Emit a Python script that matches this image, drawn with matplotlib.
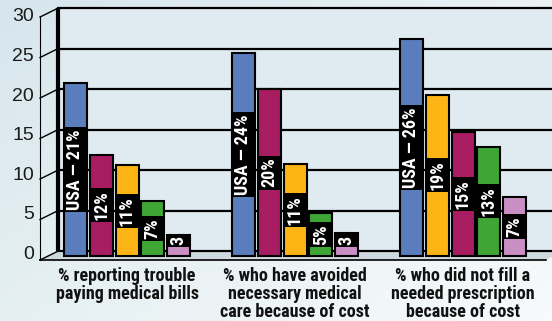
import numpy as np
import matplotlib.pyplot as plt

# survey results, % of adults
categories = ["% reporting trouble\npaying medical bills",
              "% who have avoided\nnecessary medical\ncare because of cost",
              "% who did not fill a\nneeded prescription\nbecause of cost"]
usa = [21.4, 25.1, 26.8]
magenta = [12.5, 20.6, 15.3]
orange = [11.2, 11.3, 19.9]
green = [6.8, 5.3, 13.5]
pink = [2.6, 2.9, 7.3]

usa_labels = ["USA — 21%", "USA — 24%", "USA — 26%"]
magenta_labels = ["12%", "20%", "15%"]
orange_labels = ["11%", "11%", "19%"]
green_labels = ["7%", "5%", "13%"]
pink_labels = ["3", "3", "7%"]

y_ticks = [0, 5, 10, 15, 20, 25, 30]

series = [
  (usa, usa_labels, '#5a7dbd'),
  (magenta, magenta_labels, '#a81c62'),
  (orange, orange_labels, '#fdb515'),
  (green, green_labels, '#3fa535'),
  (pink, pink_labels, '#c98fc5'),
]

NARROW = ['Roboto Condensed', 'DejaVu Sans']

PX = 8.1            # pixels per unit
FX, FDY = 40, -0.5  # front plane (x pixel, y shift)
BX, BDY = 58, 0.6   # back wall
RIGHT = 552

fig = plt.figure(figsize=(5.52, 3.21), dpi=100)

# background gradient
bg = fig.add_axes([0, 0, 1, 1], zorder=0)
t = np.linspace(0, 1, 60)
u, v = np.meshgrid(t, t)
c_tl = np.array([0.84, 0.90, 0.93])
c_tr = np.array([0.92, 0.95, 0.96])
c_bl = np.array([0.90, 0.94, 0.95])
c_br = np.array([0.97, 0.98, 0.985])
grad = ((1 - u) * (1 - v))[..., None] * c_tl + (u * (1 - v))[..., None] * c_tr \
  + ((1 - u) * v)[..., None] * c_bl + (u * v)[..., None] * c_br
bg.imshow(grad, aspect='auto', extent=[0, 1, 0, 1])
bg.axis('off')

ax = fig.add_axes([0, 0, 1, 1], zorder=1)
ax.patch.set_alpha(0)
ax.set_xlim(0, RIGHT)
ax.set_ylim(-65 / PX, 256 / PX)
ax.axis('off')

# back wall and floor
ax.fill_between([BX, RIGHT], BDY, 30 + BDY, color='#e0ebf1', zorder=1, lw=0)
ax.fill([FX, 546, 562, BX], [FDY, FDY, BDY, BDY], color='#cdd9de', zorder=1, lw=0)
ax.plot([FX, 546], [FDY, FDY], color='k', lw=1.2, zorder=2)

for g in y_ticks:
  ax.plot([BX, RIGHT], [g + BDY, g + BDY], color='k', lw=1.6, zorder=2)
  ax.plot([FX, BX], [g + FDY, g + BDY], color='k', lw=1.0, zorder=2)
  ax.text(34, 0.978 * g + 0.19, str(g), ha='right', va='center',
          fontsize=14, color='#1a1a1a', family=['Liberation Sans', 'DejaVu Sans'])

ax.plot([BX, BX], [BDY, 30 + BDY], color='k', lw=3.0, zorder=2,
        solid_capstyle='butt')
ax.plot([FX, FX], [FDY, 30 + FDY], color='k', lw=0.8, zorder=2)

# bars, sorted tallest first inside each group
step = 25.8
for i, cat in enumerate(categories):
  c = 127 + 168 * i
  order = sorted(range(len(series)), key=lambda k: -series[k][0][i])
  for r, k in enumerate(order):
    vals, labels, color = series[k]
    x = c + (r - 2) * step
    ax.bar(x, vals[i], width=23, color=color, edgecolor='k',
           linewidth=1.5, zorder=3)
    ax.text(x, max(vals[i] / 2, 1.9), labels[i], rotation=90,
            ha='center', va='center', color='white', fontsize=13,
            fontweight='bold', family=NARROW, fontstretch='condensed', zorder=4,
            bbox=dict(boxstyle='square,pad=0.12', fc='black', ec='none'))

  ax.text(c, (256 - 267) / PX, cat, ha='center', va='top', fontsize=13,
          fontweight='bold', linespacing=1.0, family=NARROW,
          fontstretch='condensed', color='#111111')

fig.savefig('out.png', dpi=100)
